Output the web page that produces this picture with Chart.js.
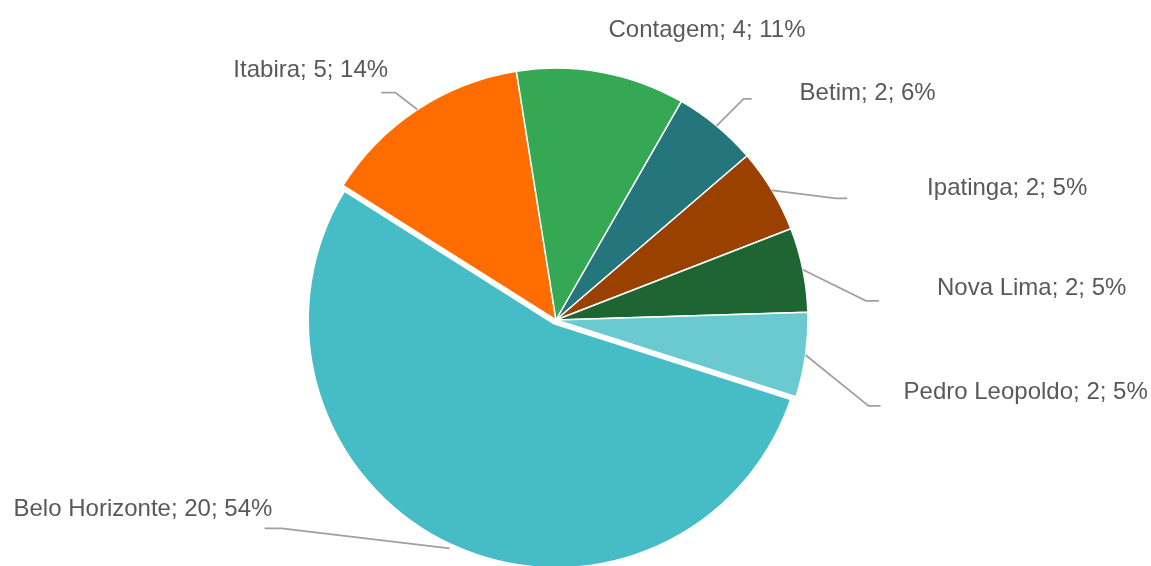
<!DOCTYPE html>
<html>
<head>
<meta charset="utf-8">
<script src="https://cdn.jsdelivr.net/npm/chart.js@4.4.1/dist/chart.umd.min.js"></script>
<style>
    html, body { margin: 0; padding: 0; background: #fff; }
    #wrap { width: 1151px; height: 566px; position: relative; }
</style>
</head>
<body>
<div id="wrap"><canvas id="pie"></canvas></div>
<script>
// data
var cities = ['Belo Horizonte', 'Itabira', 'Contagem', 'Betim', 'Ipatinga', 'Nova Lima', 'Pedro Leopoldo'];
var counts = [20, 5, 4, 2, 2, 2, 2];
var percents = ['54%', '14%', '11%', '6%', '5%', '5%', '5%'];
var colors = ['#46BDC6', '#FF6D01', '#34A853', '#25767C', '#9A4100', '#1E6533', '#6BC9D0'];

// label placement relative to the point on the rim at the slice middle
// elbow: [dx, dy], leg: horizontal part, text: [dx, dy] of baseline start (null = no line)
var labelLayout = [
    {elbow: [-168, -20], leg: -17, text: [-436, -32]},
    {elbow: [-22, -17], leg: -14, text: [-184, -33]},
    {elbow: null, leg: 0, text: [7, -35]},
    {elbow: [27, -27], leg: 8, text: [83, -26]},
    {elbow: [64, 8], leg: 11, text: [155, 5]},
    {elbow: [63, 31], leg: 13, text: [134, 25]},
    {elbow: [63, 51], leg: 12, text: [98, 44]}
];

const outsideLabels = {
    id: 'outsideLabels',
    afterDatasetsDraw(chart) {
        const ctx = chart.ctx;
        const meta = chart.getDatasetMeta(0);
        ctx.save();
        ctx.font = '24px "Liberation Sans", Arial, sans-serif';
        ctx.fillStyle = '#595959';
        ctx.textBaseline = 'alphabetic';
        ctx.textAlign = 'left';
        ctx.strokeStyle = '#A0A0A0';
        ctx.lineWidth = 1.8;
        meta.data.forEach(function(arc, i) {
            const mid = (arc.startAngle + arc.endAngle) / 2;
            const ax = arc.x + Math.cos(mid) * arc.outerRadius;
            const ay = arc.y + Math.sin(mid) * arc.outerRadius;
            const lay = labelLayout[i];
            if (lay.elbow) {
                const ex = ax + lay.elbow[0];
                const ey = ay + lay.elbow[1];
                ctx.beginPath();
                ctx.moveTo(ax, ay);
                ctx.lineTo(ex, ey);
                ctx.lineTo(ex + lay.leg, ey);
                ctx.stroke();
            }
            const txt = cities[i] + '; ' + counts[i] + '; ' + percents[i];
            ctx.fillText(txt, ax + lay.text[0], ay + lay.text[1]);
        });
        ctx.restore();
    }
};

var pie_ctx = document.getElementById('pie').getContext('2d');
window.pieChart = new Chart(pie_ctx, {
    type: 'pie',
    data: {
        labels: cities,
        datasets: [{
            data: counts,
            backgroundColor: colors,
            borderColor: '#ffffff',
            borderWidth: [10, 1.5, 1.5, 1.5, 1.5, 1.5, 1.5]
        }]
    },
    options: {
        responsive: true,
        maintainAspectRatio: false,
        animation: false,
        rotation: 107.7,
        radius: 252,
        layout: { padding: { left: 0, right: 39, top: 74, bottom: 0 } },
        plugins: {
            legend: { display: false },
            tooltip: { enabled: false }
        }
    },
    plugins: [outsideLabels]
});
</script>
</body>
</html>
